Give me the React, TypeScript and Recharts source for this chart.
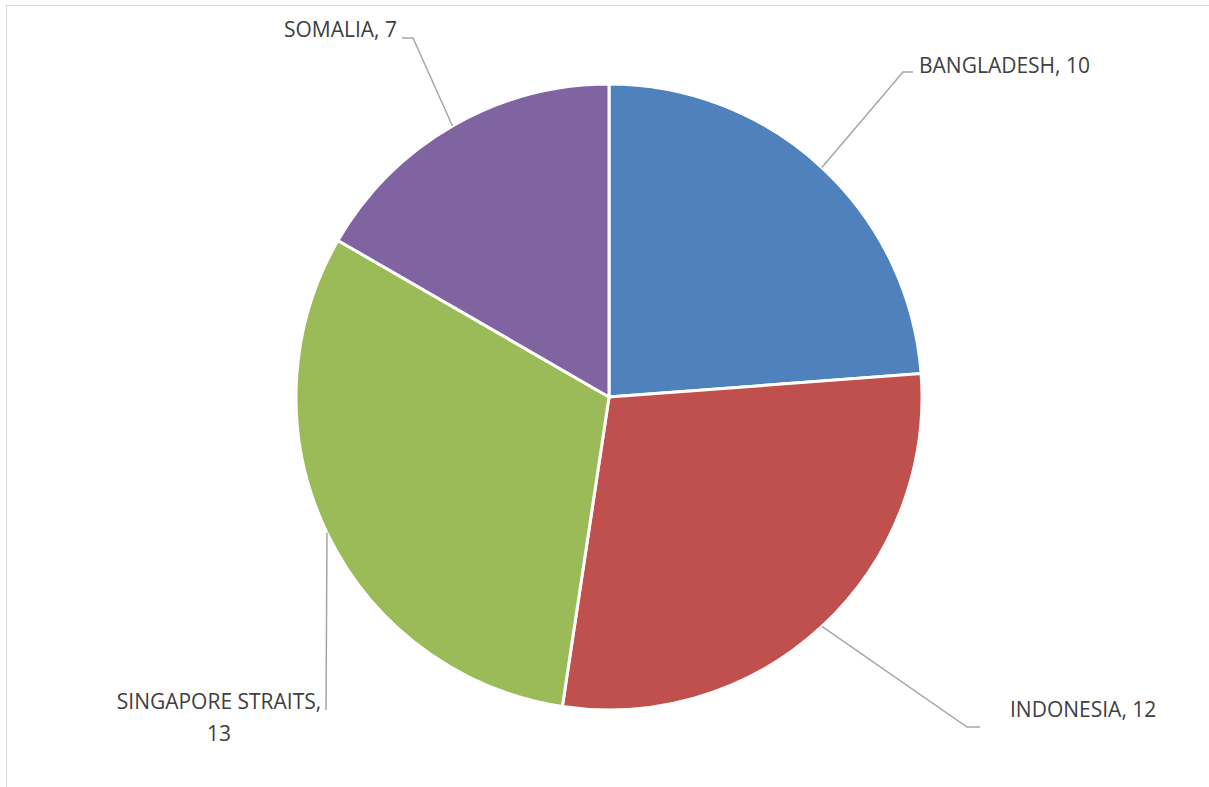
import { Cell, Pie, PieChart } from 'recharts';

const categories = ['BANGLADESH', 'INDONESIA', 'SINGAPORE STRAITS', 'SOMALIA'];
const values = [10, 12, 13, 7];
const colors = ['#4F81BD', '#C0504D', '#9BBB59', '#8064A2'];

// leader elbow / end points and text placement for each label
const labelLayout = [
  { elbow: [903, 72], end: [913, 72], x: 919, y: 73, anchor: 'start', lines: ['BANGLADESH, 10'] },
  { elbow: [967, 727], end: [980, 727], x: 1010, y: 717, anchor: 'start', lines: ['INDONESIA, 12'] },
  { elbow: [326, 710], end: [326, 710], x: 219, y: 709, anchor: 'middle', lines: ['SINGAPORE STRAITS,', '13'] },
  { elbow: [413, 38], end: [402, 38], x: 397, y: 37, anchor: 'end', lines: ['SOMALIA, 7'] },
];

const chartData = categories.map((name, i) => ({ name, value: values[i] }));

const RADIAN = Math.PI / 180;

function renderLabel(props: any) {
  const { cx, cy, midAngle, outerRadius, index } = props;
  const sx = cx + outerRadius * Math.cos(-midAngle * RADIAN);
  const sy = cy + outerRadius * Math.sin(-midAngle * RADIAN);
  const l = labelLayout[index];
  return (
    <g key={`label-${index}`}>
      <polyline
        points={`${sx},${sy} ${l.elbow[0]},${l.elbow[1]} ${l.end[0]},${l.end[1]}`}
        fill='none'
        stroke='#a6a6a6'
        strokeWidth={1.5}
      />
      <text
        x={l.x}
        y={l.y}
        textAnchor={l.anchor as any}
        fill='#404040'
        fontSize={21}
        fontFamily='"Open Sans", sans-serif'
      >
        {l.lines.map((t, i) => (
          <tspan key={t} x={l.x} dy={i === 0 ? 0 : 32}>
            {t}
          </tspan>
        ))}
      </text>
    </g>
  );
}

export default function App() {
  return (
    <div
      style={{
        position: 'absolute',
        left: 0,
        top: 0,
        width: 1209,
        height: 787,
        overflow: 'hidden',
        background: '#fff',
      }}
    >
      <div
        style={{
          position: 'absolute',
          left: 6,
          top: 5,
          width: 1300,
          height: 900,
          border: '1.5px solid #d9d9d9',
        }}
      />
      <div style={{ position: 'absolute', left: 0, top: 0 }}>
        <PieChart width={1209} height={787} margin={{ top: 0, right: 0, bottom: 0, left: 0 }}>
          <Pie
            data={chartData}
            cx={609}
            cy={397}
            outerRadius={313}
            startAngle={90}
            endAngle={-270}
            dataKey='value'
            nameKey='name'
            stroke='#fff'
            strokeWidth={3}
            label={renderLabel}
            labelLine={false}
            isAnimationActive={false}
          >
            {chartData.map((entry, index) => (
              <Cell key={`cell-${entry.name}`} fill={colors[index]} />
            ))}
          </Pie>
        </PieChart>
      </div>
    </div>
  );
}
